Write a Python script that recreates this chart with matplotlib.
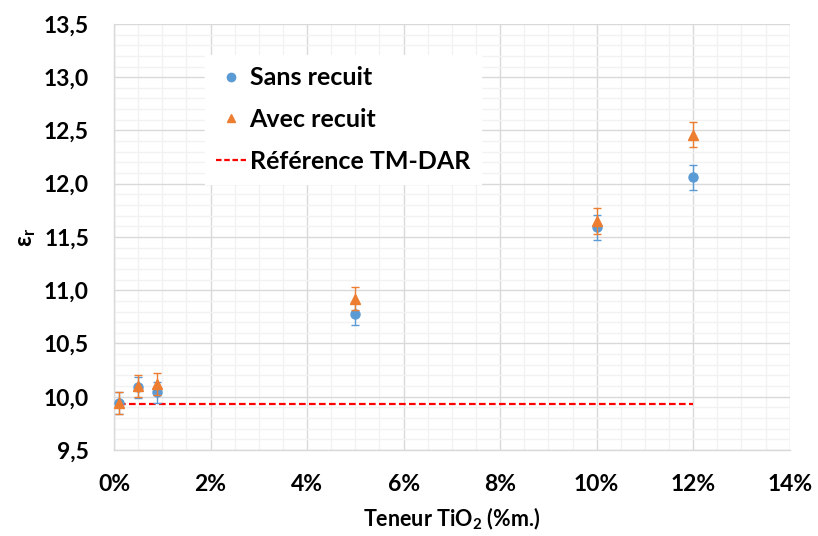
import matplotlib
matplotlib.use('Agg')
import matplotlib.pyplot as plt
from matplotlib.lines import Line2D
from matplotlib.ticker import MultipleLocator, FuncFormatter

plt.rcParams['font.family'] = ['Lato', 'DejaVu Sans']
plt.rcParams['font.weight'] = 'bold'
plt.rcParams['mathtext.default'] = 'regular'

# data (teneur in %, permittivity)
teneur = [0.1, 0.5, 0.9, 5, 10, 12]
sans_recuit = [9.94, 10.09, 10.04, 10.78, 11.59, 12.06]
sans_err = [0.10, 0.10, 0.10, 0.11, 0.12, 0.12]
avec_recuit = [9.94, 10.10, 10.12, 10.92, 11.65, 12.46]
avec_err = [0.10, 0.10, 0.10, 0.11, 0.12, 0.12]
ref_x = [0.1, 12]
ref_y = [9.93, 9.93]

blue = '#5B9BD5'
orange = '#ED7D31'

fig = plt.figure(figsize=(8.18, 5.36), dpi=100)
ax = fig.add_axes([0.1394, 0.1604, 0.826, 0.795])

ax.errorbar(teneur, sans_recuit, yerr=sans_err, fmt='o', color=blue,
            markersize=6.5, elinewidth=1, capsize=3, capthick=1, zorder=3)
ax.errorbar(teneur, avec_recuit, yerr=avec_err, fmt='^', color=orange,
            markersize=7, elinewidth=1, capsize=3, capthick=1, zorder=4)
ax.plot(ref_x, ref_y, linestyle=(0, (3, 1.5)), color='#FF0000', linewidth=1.6,
        zorder=2)

ax.set_xlim(0, 14)
ax.set_ylim(9.5, 13.5)
ax.xaxis.set_major_locator(MultipleLocator(2))
ax.xaxis.set_minor_locator(MultipleLocator(0.5))
ax.yaxis.set_major_locator(MultipleLocator(0.5))
ax.yaxis.set_minor_locator(MultipleLocator(0.1))
ax.xaxis.set_major_formatter(FuncFormatter(lambda v, p: f'{v:.0f}%'))
ax.yaxis.set_major_formatter(FuncFormatter(lambda v, p: f'{v:.1f}'.replace('.', ',')))

ax.grid(which='major', color='#D9D9D9', linewidth=1)
ax.grid(which='minor', color='#F2F2F2', linewidth=1)
ax.set_axisbelow(True)

for s in ['top', 'right']:
    ax.spines[s].set_visible(False)
for s in ['left', 'bottom']:
    ax.spines[s].set_color('#D9D9D9')
    ax.spines[s].set_linewidth(1)

ax.tick_params(which='both', length=0, labelsize=16.5)
ax.tick_params(axis='y', pad=18)
ax.tick_params(axis='x', pad=17)
for lab in ax.get_xticklabels() + ax.get_yticklabels():
    lab.set_fontweight('bold')

ax.set_xlabel('Teneur TiO$_2$ (%m.)', fontsize=15.5, fontweight='bold', labelpad=8)
ax.set_ylabel('ε$_r$', fontsize=17, fontweight='bold', labelpad=4)

handles = [
    Line2D([], [], marker='o', color=blue, linestyle='none', markersize=6),
    Line2D([], [], marker='^', color=orange, linestyle='none', markersize=6),
    Line2D([], [], linestyle=(0, (2.5, 1.2)), color='#FF0000', linewidth=1.6),
]
labels = ['Sans recuit', 'Avec recuit', 'Référence TM-DAR']
leg = ax.legend(handles, labels, loc='upper left',
                bbox_to_anchor=(0.25, 0.897), bbox_transform=fig.transFigure,
                fontsize=18, frameon=True, facecolor='white', edgecolor='white',
                framealpha=1, fancybox=False, handlelength=1.2,
                handletextpad=0.15, labelspacing=0.75, borderpad=0.45,
                borderaxespad=0)
for t in leg.get_texts():
    t.set_fontweight('bold')

fig.savefig('out.png', dpi=100)
